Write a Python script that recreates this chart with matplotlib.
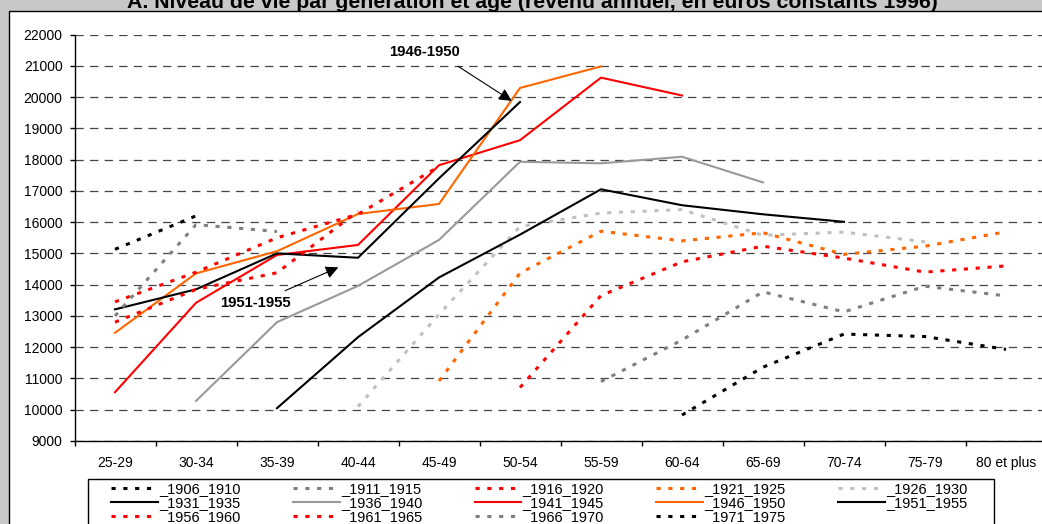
import numpy as np
import matplotlib.pyplot as plt
from matplotlib.patches import Rectangle
from matplotlib.ticker import MultipleLocator, FixedLocator

plt.rcParams['font.family'] = ['Liberation Sans', 'DejaVu Sans']
plt.rcParams['lines.scale_dashes'] = False

nan = np.nan

# tranches d'âge (axe des x)
ages = ['25-29', '30-34', '35-39', '40-44', '45-49', '50-54',
        '55-59', '60-64', '65-69', '70-74', '75-79', '80 et plus']

# niveau de vie par génération, une valeur par tranche d'âge
g1906_1910 = [nan, nan, nan, nan, nan, nan, nan, 9830, 11360, 12420, 12340, 11930]
g1911_1915 = [nan, nan, nan, nan, nan, nan, 10900, 12230, 13770, 13130, 13950, 13640]
g1916_1920 = [nan, nan, nan, nan, nan, 10710, 13650, 14730, 15230, 14850, 14400, 14600]
g1921_1925 = [nan, nan, nan, nan, 10920, 14370, 15710, 15400, 15660, 14970, 15230, 15690]
g1926_1930 = [nan, nan, nan, 10100, 13050, 15860, 16290, 16400, 15580, 15680, 15370, nan]
g1931_1935 = [nan, nan, 10050, 12320, 14230, 15600, 17050, 16540, 16250, 16010, nan, nan]
g1936_1940 = [nan, 10280, 12800, 13960, 15430, 17930, 17880, 18090, 17270, nan, nan, nan]
g1941_1945 = [10560, 13420, 14950, 15270, 17820, 18620, 20620, 20050, nan, nan, nan, nan]
g1946_1950 = [12460, 14360, 15070, 16260, 16580, 20290, 20980, nan, nan, nan, nan, nan]
g1951_1955 = [13210, 13850, 15000, 14860, 17400, 19840, nan, nan, nan, nan, nan, nan]
g1956_1960 = [13450, 14400, 15500, 16250, 17780, nan, nan, nan, nan, nan, nan, nan]
g1961_1965 = [12800, 13850, 14380, 16350, nan, nan, nan, nan, nan, nan, nan, nan]
g1966_1970 = [13000, 15920, 15700, nan, nan, nan, nan, nan, nan, nan, nan, nan]
g1971_1975 = [15130, 16200, nan, nan, nan, nan, nan, nan, nan, nan, nan, nan]

DOT = (0, (3.0, 5.5))
series = [
    ('_1906_1910', g1906_1910, '#000000', DOT),
    ('_1911_1915', g1911_1915, '#808080', DOT),
    ('_1916_1920', g1916_1920, '#FF0000', DOT),
    ('_1921_1925', g1921_1925, '#FF6600', DOT),
    ('_1926_1930', g1926_1930, '#C0C0C0', DOT),
    ('_1931_1935', g1931_1935, '#000000', '-'),
    ('_1936_1940', g1936_1940, '#999999', '-'),
    ('_1941_1945', g1941_1945, '#FF0000', '-'),
    ('_1946_1950', g1946_1950, '#FF6600', '-'),
    ('_1951_1955', g1951_1955, '#000000', '-'),
    ('_1956_1960', g1956_1960, '#FF0000', DOT),
    ('_1961_1965', g1961_1965, '#FF0000', DOT),
    ('_1966_1970', g1966_1970, '#808080', DOT),
    ('_1971_1975', g1971_1975, '#000000', DOT),
]

W, H = 1042, 524
fig = plt.figure(figsize=(W / 100, H / 100), dpi=100, facecolor='#C8C8C8')

# zone du graphique (cadre blanc) et titre coupé en haut
fig.patches.append(Rectangle((9 / W, -0.2), 1.2, 1.2 - 11 / H, transform=fig.transFigure,
                             facecolor='white', edgecolor='black', lw=1, zorder=-1))
fig.text(532 / W, 1 - 7.5 / H,
         'A. Niveau de vie par génération et âge (revenu annuel, en euros constants 1996)',
         ha='center', va='baseline', fontsize=15.3, fontweight='bold', zorder=-2)

ax = fig.add_axes([74.5 / W, (H - 441) / H, 972 / W, (441 - 34.5) / H])
ax.set_facecolor('white')

x = np.arange(len(ages))
lines = []
for label, vals, color, ls in series:
    lw = 2.2 if ls is DOT else 1.5
    ln, = ax.plot(x, vals, color=color, linestyle=ls, lw=lw, label=label)
    lines.append(ln)

ax.set_xlim(-0.5, len(ages) - 0.5)
ax.set_ylim(9000, 22000)
ax.yaxis.set_major_locator(MultipleLocator(1000))
ax.set_xticks(x)
ax.set_xticklabels(ages, fontsize=10)
ax.xaxis.set_minor_locator(FixedLocator(np.arange(-0.5, len(ages), 1.0)))
ax.tick_params(axis='x', which='major', length=0, pad=11)
ax.tick_params(axis='x', which='minor', length=3.6, width=1, direction='out')
ax.tick_params(axis='y', length=3.6, width=1, direction='out', pad=5, labelsize=10)

ax.yaxis.grid(True, color='#444444', lw=0.9, linestyle=(0, (6, 4.5)))
ax.set_axisbelow(True)
for s in ['top', 'right']:
    ax.spines[s].set_visible(False)
for s in ['left', 'bottom']:
    ax.spines[s].set_linewidth(1)

# annotations
ax.annotate('', xy=(4.898, 19876), xytext=(4.235, 20984),
            arrowprops=dict(arrowstyle='-|>', color='black', lw=0.8,
                            mutation_scale=19, shrinkA=0, shrinkB=0))
ax.text(3.821, 21441, '1946-1950', ha='center', va='center', fontsize=10.7, fontweight='bold')
ax.annotate('', xy=(2.757, 14553), xytext=(2.099, 13805),
            arrowprops=dict(arrowstyle='-|>', color='black', lw=0.8,
                            mutation_scale=19, shrinkA=0, shrinkB=0))
ax.text(1.728, 13428, '1951-1955', ha='center', va='center', fontsize=10.7, fontweight='bold')

# légende : cadre + entrées rangées ligne par ligne
fig.patches.append(Rectangle((88 / W, -0.2), 906 / W, (H - 479) / H + 0.2,
                             transform=fig.transFigure, facecolor='white',
                             edgecolor='black', lw=1, zorder=1))
order = [0, 5, 10, 1, 6, 11, 2, 7, 12, 3, 8, 13, 4, 9]
fig.legend([lines[i] for i in order], [series[i][0] for i in order],
           loc='upper left', bbox_to_anchor=(111 / W, 1 - 482 / H), ncols=5,
           frameon=False, fontsize=10.5, handlelength=3.2, handletextpad=0.1,
           columnspacing=3.58, labelspacing=0.0, borderpad=0, borderaxespad=0)

fig.savefig('out.png', dpi=100, facecolor=fig.get_facecolor())
